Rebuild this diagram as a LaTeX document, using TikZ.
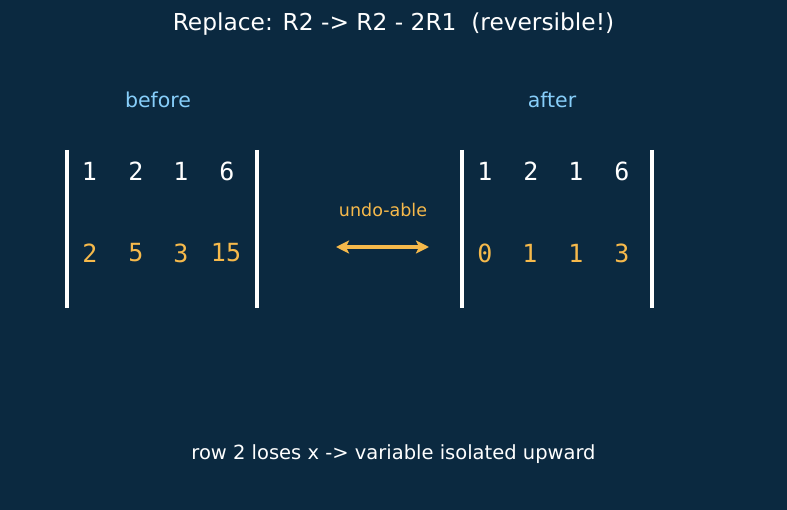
\documentclass[tikz,border=0pt]{standalone}
\usepackage{fontspec}
\setmainfont{DejaVu Sans}
\newfontfamily\monofont{DejaVu Sans Mono}
\usetikzlibrary{arrows.meta}
\definecolor{bg}{HTML}{0B2940}
\definecolor{acc}{HTML}{F6B94B}
\definecolor{lbl}{HTML}{87CEFA}
\begin{document}
\begin{tikzpicture}[x=1pt,y=-1pt,
  title/.style={text=white,font=\fontsize{23.3}{26}\selectfont,inner sep=0pt},
  head/.style={text=lbl,font=\fontsize{20.5}{24}\selectfont,inner sep=0pt},
  toprow/.style={text=white,font=\monofont\fontsize{25}{28}\selectfont,inner sep=0pt},
  botrow/.style={text=acc,font=\monofont\fontsize{25}{28}\selectfont,inner sep=0pt},
  bar/.style={white,line width=3.4pt},
  note/.style={text=acc,font=\fontsize{17.5}{20}\selectfont,inner sep=0pt},
  foot/.style={text=white,font=\fontsize{19.5}{22}\selectfont,inner sep=0pt},
  tipstyle/.style={arrows={Stealth[length=13pt,width=13pt,inset=3pt]-Stealth[length=13pt,width=13pt,inset=3pt]}},
  dblarrow/.style={acc,line width=3.2pt,tipstyle}]
\fill[bg] (0,0) rectangle (787,510);
\useasboundingbox (0,0) rectangle (787,510);
\node[title] (t) at (393.5,24) {Replace: R2 -> R2 - 2R1\ \ (reversible!)};
\node[head] (hb) at (158,100) {before};
\node[head] (ha) at (552,100) {after};
% left matrix
\coordinate (l1a) at (67,150); \coordinate (l1b) at (67,308);
\coordinate (l2a) at (257,150); \coordinate (l2b) at (257,308);
\draw[bar] (l1a) -- (l1b);
\draw[bar] (l2a) -- (l2b);
\node[toprow] (a11) at (89.5,171) {1};
\node[toprow] (a12) at (136,171) {2};
\node[toprow] (a13) at (181,171) {1};
\node[toprow] (a14) at (227,171) {6};
\node[botrow] (a21) at (90,253) {2};
\node[botrow] (a22) at (136,253) {5};
\node[botrow] (a23) at (181,253) {3};
\node[botrow] (a24) at (226,253) {15};
% right matrix
\coordinate (r1a) at (462,150); \coordinate (r1b) at (462,308);
\coordinate (r2a) at (652,150); \coordinate (r2b) at (652,308);
\draw[bar] (r1a) -- (r1b);
\draw[bar] (r2a) -- (r2b);
\node[toprow] (b11) at (485,171) {1};
\node[toprow] (b12) at (531,171) {2};
\node[toprow] (b13) at (576,171) {1};
\node[toprow] (b14) at (622,171) {6};
\node[botrow] (b21) at (485,253) {0};
\node[botrow] (b22) at (530,253) {1};
\node[botrow] (b23) at (576,253) {1};
\node[botrow] (b24) at (622,253) {3};
% arrow
\node[note] (u) at (383,210) {undo-able};
\coordinate (pl) at (336,247);
\coordinate (pr) at (429,247);
\draw[dblarrow] (pl) -- (pr);
\node[foot] (f) at (393.5,454) {row 2 loses x -> variable isolated upward};
\end{tikzpicture}
\end{document}
